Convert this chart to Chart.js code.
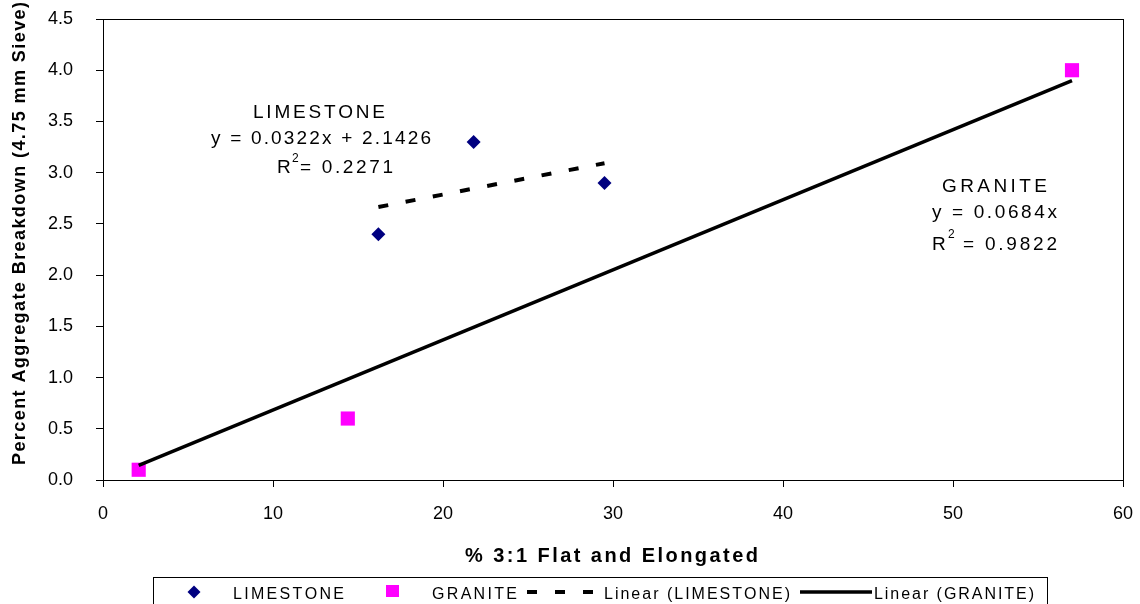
<!DOCTYPE html>
<html><head><meta charset="utf-8">
<script src="https://cdn.jsdelivr.net/npm/chart.js@4.4.0/dist/chart.umd.min.js"></script>
<style>html,body{margin:0;padding:0;background:#fff;}#wrap{width:1140px;height:604px;position:relative;overflow:hidden;}</style>
</head><body><div id="wrap"><canvas id="c" width="1140" height="604"></canvas></div>
<script>
// ---- data ----
const limestoneX = [16.2, 21.8, 29.5];
const limestoneY = [2.4, 3.3, 2.9];
const graniteX = [2.1, 14.4, 57.0];
const graniteY = [0.1, 0.6, 4.0];
// trendline equations shown on the chart
const limestoneSlope = 0.0322, limestoneIntercept = 2.1426, limestoneR2 = '0.2271';
const graniteSlope = 0.0684, graniteIntercept = 0, graniteR2 = '0.9822';
const seriesNames = ['LIMESTONE', 'GRANITE', 'Linear (LIMESTONE)', 'Linear (GRANITE)'];
const xTitle = '% 3:1 Flat and Elongated';
const yTitle = 'Percent Aggregate Breakdown (4.75 mm Sieve)';
const xMin = 0, xMax = 60, xStep = 10;
const yMin = 0, yMax = 4.5, yStep = 0.5;

const FONT = '"Liberation Sans", Arial, Helvetica, sans-serif';

function pts(xs, ys) { return xs.map((x, i) => ({x: x, y: ys[i]})); }
function fitLine(xs, m, b) {
  const lo = Math.min(...xs), hi = Math.max(...xs);
  return [{x: lo, y: m * lo + b}, {x: hi, y: m * hi + b}];
}

// draw text spread so that it spans from left to right
function spanText(ctx, text, left, right, y) {
  const chars = [...text];
  const w = chars.map(c => ctx.measureText(c).width);
  const sum = w.reduce((a, b) => a + b, 0);
  const sp = chars.length > 1 ? (right - left - sum) / (chars.length - 1) : 0;
  ctx.textAlign = 'left';
  let cx = left;
  chars.forEach((c, i) => { ctx.fillText(c, cx, y); cx += w[i] + sp; });
}

const overlay = {
  id: 'overlay',
  afterDraw(chart) {
    const ctx = chart.ctx, a = chart.chartArea;
    ctx.save();
    // plot frame
    ctx.strokeStyle = '#000'; ctx.lineWidth = 1;
    ctx.strokeRect(Math.round(a.left) + 0.5, Math.round(a.top) + 0.5, Math.round(a.right - a.left), Math.round(a.bottom - a.top));
    ctx.fillStyle = '#000';
    ctx.textBaseline = 'alphabetic';
    // annotations
    ctx.font = '19px ' + FONT;
    spanText(ctx, 'LIMESTONE', 253, 385, 118);
    spanText(ctx, 'y = ' + limestoneSlope.toFixed(4) + 'x + ' + limestoneIntercept.toFixed(4), 211, 431, 144);
    spanText(ctx, 'R', 277, 290, 173);
    spanText(ctx, '= ' + limestoneR2, 300, 393, 173);
    spanText(ctx, 'GRANITE', 942, 1047, 192);
    spanText(ctx, 'y = ' + graniteSlope.toFixed(4) + 'x', 932, 1057, 218);
    spanText(ctx, 'R', 932, 945, 250);
    spanText(ctx, '= ' + graniteR2, 963, 1057, 250);
    ctx.font = '12px ' + FONT;
    ctx.fillText('2', 292, 162);
    ctx.fillText('2', 948, 238);
    // axis titles
    ctx.font = 'bold 20px ' + FONT;
    spanText(ctx, xTitle, 465, 758, 562);
    ctx.save();
    ctx.translate(25, 465);
    ctx.rotate(-Math.PI / 2);
    ctx.font = 'bold 18px ' + FONT;
    spanText(ctx, yTitle, 0, 463, 0);
    ctx.restore();
    // legend
    ctx.fillStyle = '#fff';
    ctx.fillRect(153, 577, 894, 40);
    ctx.strokeStyle = '#000'; ctx.lineWidth = 1;
    ctx.strokeRect(153.5, 577.5, 894, 40);
    const cy = 592;
    ctx.fillStyle = '#000080';
    ctx.beginPath(); ctx.moveTo(194, cy - 6.5); ctx.lineTo(200.5, cy); ctx.lineTo(194, cy + 6.5); ctx.lineTo(187.5, cy); ctx.closePath(); ctx.fill();
    ctx.fillStyle = '#FF00FF';
    ctx.fillRect(386, 585, 13, 12);
    ctx.strokeStyle = '#000'; ctx.lineWidth = 4;
    ctx.setLineDash([10, 18]);
    ctx.beginPath(); ctx.moveTo(527, cy); ctx.lineTo(596, cy); ctx.stroke();
    ctx.setLineDash([]);
    ctx.lineWidth = 3.5;
    ctx.beginPath(); ctx.moveTo(800, cy); ctx.lineTo(872, cy); ctx.stroke();
    ctx.fillStyle = '#000';
    ctx.font = '16px ' + FONT;
    spanText(ctx, seriesNames[0], 233, 344, 599);
    spanText(ctx, seriesNames[1], 432, 517, 599);
    spanText(ctx, seriesNames[2], 604, 790, 599);
    spanText(ctx, seriesNames[3], 874, 1034, 599);
    ctx.restore();
  }
};

new Chart(document.getElementById('c'), {
  type: 'scatter',
  data: {
    datasets: [
      {label: seriesNames[0], data: pts(limestoneX, limestoneY), pointStyle: 'rectRot', pointRadius: 7,
       backgroundColor: '#000080', borderColor: '#000080', borderWidth: 0, order: 2},
      {label: seriesNames[1], data: pts(graniteX, graniteY), pointStyle: 'rect', pointRadius: 10,
       backgroundColor: '#FF00FF', borderColor: '#FF00FF', borderWidth: 0, order: 2},
      {label: seriesNames[2], data: fitLine(limestoneX, limestoneSlope, limestoneIntercept), showLine: true,
       borderColor: '#000', borderWidth: 4, borderDash: [10, 17.7], pointRadius: 0, order: 1},
      {label: seriesNames[3], data: fitLine(graniteX, graniteSlope, graniteIntercept), showLine: true,
       borderColor: '#000', borderWidth: 3.5, pointRadius: 0, order: 0}
    ]
  },
  options: {
    responsive: false, animation: false, events: [],
    layout: {padding: {left: 0, top: 19, right: 17, bottom: 28}},
    plugins: {legend: {display: false}, tooltip: {enabled: false}},
    scales: {
      x: {type: 'linear', min: xMin, max: xMax,
          ticks: {stepSize: xStep, color: '#000', font: {size: 18, family: FONT}, padding: 16, maxRotation: 0},
          grid: {drawOnChartArea: false, drawTicks: true, tickLength: 7, color: '#000'},
          border: {color: '#000', width: 1},
          afterFit(s) { s.height = 96; s.paddingLeft = 0; s.paddingRight = 0; }},
      y: {type: 'linear', min: yMin, max: yMax,
          ticks: {stepSize: yStep, color: '#000', font: {size: 18, family: FONT}, padding: 23,
                  callback: v => Number(v).toFixed(1)},
          grid: {drawOnChartArea: false, drawTicks: true, tickLength: 7, color: '#000'},
          border: {color: '#000', width: 1},
          afterFit(s) { s.width = 103; s.paddingTop = 0; s.paddingBottom = 0; }}
    }
  },
  plugins: [overlay]
});
</script></body></html>
